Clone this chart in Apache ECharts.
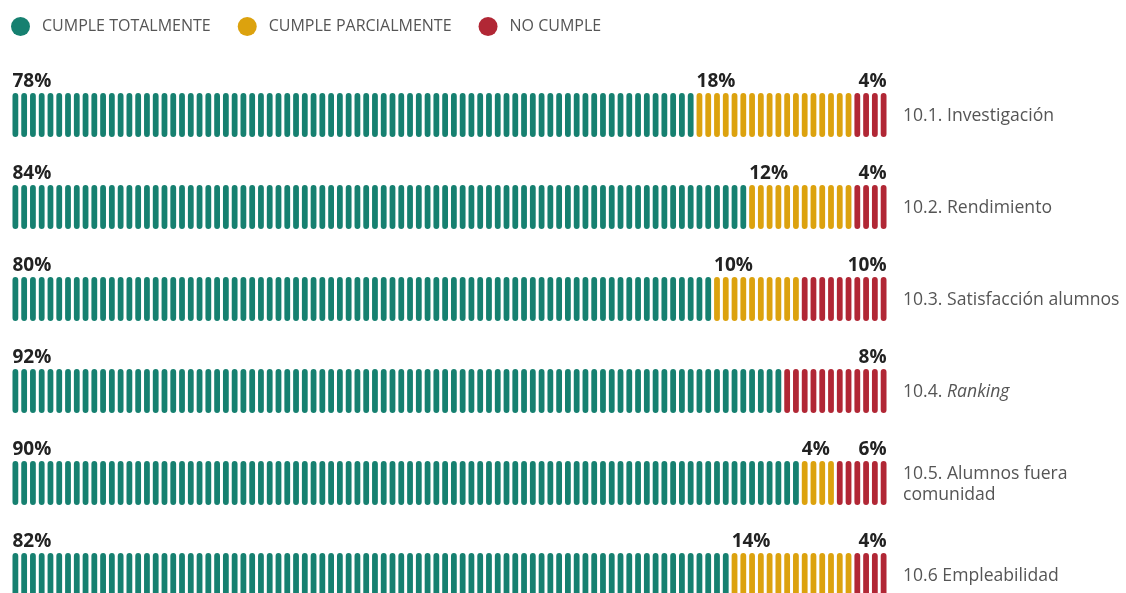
<!DOCTYPE html>
<html>
<head>
<meta charset="utf-8">
<script src="https://cdn.jsdelivr.net/npm/echarts@6/dist/echarts.min.js"></script>
<style>
  html, body { margin: 0; padding: 0; background: #fff; }
  #chart { width: 1126px; height: 593px; }
</style>
</head>
<body>
<div id="chart"></div>
<script>
// categorias (filas)
var categories = ['10.1. Investigación', '10.2. Rendimiento', '10.3. Satisfacción alumnos',
  '10.4. Ranking', '10.5. Alumnos fuera\ncomunidad', '10.6 Empleabilidad'];
// número de segmentos dibujados por fila (de 100)
var totalSeg = [78, 84, 80, 88, 90, 82];
var parcialSeg = [18, 12, 10, 0, 4, 14];
var noSeg = [4, 4, 10, 12, 6, 4];
// etiquetas de porcentaje tal como aparecen
var totalLabels = ['78%', '84%', '80%', '92%', '90%', '82%'];
var parcialLabels = ['18%', '12%', '10%', '', '4%', '14%'];
var noLabels = ['4%', '4%', '10%', '8%', '6%', '4%'];

var names = ['CUMPLE TOTALMENTE', 'CUMPLE PARCIALMENTE', 'NO CUMPLE'];
var colors = ['#168070', '#dca20e', '#b12735'];

var chart = echarts.init(document.getElementById('chart'));

function buildData(counts, starts) {
  return counts.map(function (c, i) {
    return [starts[i], c, i];
  });
}
var zeros = [0, 0, 0, 0, 0, 0];
var parcialStart = totalSeg.slice();
var noStart = totalSeg.map(function (t, i) { return t + parcialSeg[i]; });

// align: posición de la etiqueta del grupo ('left' al inicio, 'right' al final)
function makeRender(align, labels) {
  return function (params, api) {
    var start = api.value(0), count = api.value(1), row = api.value(2);
    var label = labels[params.dataIndex];
    var pitch = api.size([1, 0])[0];
    var band = api.size([0, 1])[1];
    var h = band * 0.478;
    var w = pitch * 0.66;
    var cy = api.coord([0, row])[1];
    var fill = api.visual('color');
    var children = [];
    for (var k = 0; k < count; k++) {
      var x = api.coord([start + k, row])[0] + (pitch - w) / 2;
      children.push({
        type: 'rect',
        shape: { x: x, y: cy - h / 2, width: w, height: h, r: w / 2 },
        style: { fill: fill }
      });
    }
    if (count > 0 && label) {
      var tx = align === 'left'
        ? api.coord([start, row])[0] + (pitch - w) / 2
        : api.coord([start + count, row])[0] - (pitch - w) / 2;
      children.push({
        type: 'text',
        style: {
          text: label, x: tx, y: cy - h / 2 - 11,
          align: align, verticalAlign: 'middle',
          fontFamily: 'Open Sans', fontWeight: 'bold', fontSize: 19, fill: '#222'
        }
      });
    }
    return { type: 'group', children: children };
  };
}

var option = {
  animation: false,
  legend: {
    left: 11, top: 17, padding: 0,
    icon: 'circle',
    itemWidth: 19, itemHeight: 19,
    itemGap: 27,
    data: names,
    textStyle: { fontFamily: 'Open Sans', fontSize: 16, color: '#555', padding: [0, 0, 0, 7] }
  },
  grid: { left: 11, top: 69, width: 877, height: 552, outerBoundsMode: 'none', containLabel: false },
  xAxis: { type: 'value', min: 0, max: 100, show: false },
  yAxis: {
    type: 'category', inverse: true, position: 'right',
    data: categories,
    axisLine: { show: false }, axisTick: { show: false }, splitLine: { show: false },
    axisLabel: {
      margin: 15, fontFamily: 'Open Sans', fontSize: 17.6, color: '#555', lineHeight: 21,
      padding: [2, 0, 0, 0],
      formatter: function (v) {
        return v === '10.4. Ranking' ? '10.4. {i|Ranking}' : v;
      },
      rich: { i: { fontStyle: 'italic', fontFamily: 'Open Sans', fontSize: 17.6, color: '#555' } }
    }
  },
  series: [
    {
      name: names[0], type: 'custom', itemStyle: { color: colors[0] },
      renderItem: makeRender('left', totalLabels), data: buildData(totalSeg, zeros)
    },
    {
      name: names[1], type: 'custom', itemStyle: { color: colors[1] },
      renderItem: makeRender('left', parcialLabels), data: buildData(parcialSeg, parcialStart)
    },
    {
      name: names[2], type: 'custom', itemStyle: { color: colors[2] },
      renderItem: makeRender('right', noLabels), data: buildData(noSeg, noStart)
    }
  ]
};
chart.setOption(option);
</script>
</body>
</html>
